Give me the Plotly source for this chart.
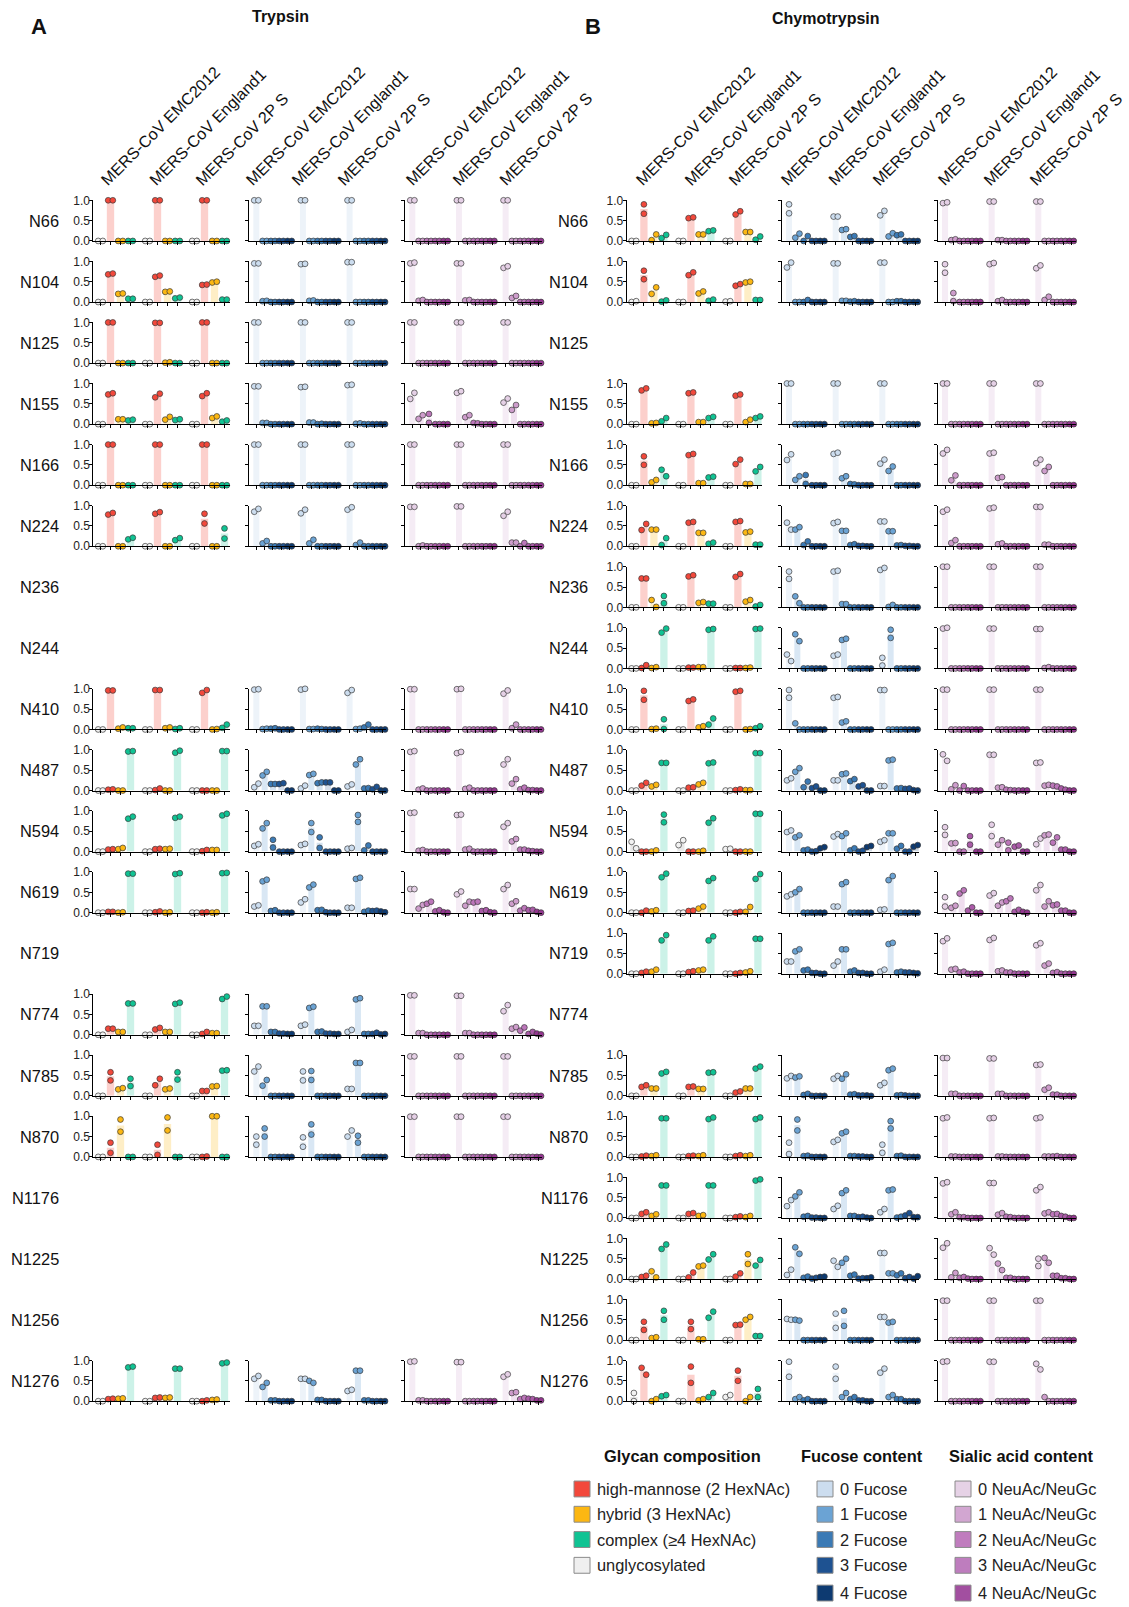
import plotly.graph_objects as go

W, H = 1129, 1607
FONT = "Arial, 'Liberation Sans', sans-serif"

SITES = ["N66", "N104", "N125", "N155", "N166", "N224", "N236", "N244", "N410", "N487",
         "N594", "N619", "N719", "N774", "N785", "N870", "N1176", "N1225", "N1256", "N1276"]
VIRUSES = ["MERS-CoV EMC2012", "MERS-CoV England1", "MERS-CoV 2P S"]
COMP_CATS = ["unglycosylated", "high-mannose (2 HexNAc)", "hybrid (3 HexNAc)", "complex (≥4 HexNAc)"]
FUC_CATS = ["0 Fucose", "1 Fucose", "2 Fucose", "3 Fucose", "4 Fucose"]
SIA_CATS = ["0 NeuAc/NeuGc", "1 NeuAc/NeuGc", "2 NeuAc/NeuGc", "3 NeuAc/NeuGc", "4 NeuAc/NeuGc"]

# values: site -> [virus][category] = (replicate 1, replicate 2)
C1 = [(0, 0), (1, 1), (0, 0), (0, 0)]
F1 = [(1, 1), (0, 0), (0, 0), (0, 0), (0, 0)]

TRY_COMP = {
    "N66": [C1, C1, C1],
    "N104": [[(0, 0), (.68, .70), (.20, .21), (.08, .08)], [(0, 0), (.62, .65), (.25, .26), (.09, .11)], [(0, 0), (.42, .43), (.48, .50), (.06, .06)]],
    "N125": [C1, [(0, 0), (.99, .99), (.01, .02), (0, 0)], C1],
    "N155": [[(0, 0), (.73, .76), (.12, .12), (.09, .11)], [(0, 0), (.66, .75), (.11, .18), (.10, .12)], [(0, 0), (.69, .76), (.15, .19), (.06, .09)]],
    "N166": [C1, C1, C1],
    "N224": [[(0, 0), (.78, .82), (0, 0), (.17, .21)], [(0, 0), (.80, .84), (0, 0), (.15, .20)], [(0, 0), (.80, .56), (0, 0), (.44, .19)]],
    "N410": [[(0, 0), (.96, .96), (.02, .05), (.03, .03)], [(0, 0), (.97, .97), (.03, .05), (.01, .03)], [(0, 0), (.90, .97), (0, .01), (.04, .12)]],
    "N487": [[(0, 0), (.02, .03), (0, 0), (.96, .97)], [(0, 0), (.01, .05), (0, 0), (.93, .98)], [(0, 0), (0, 0), (0, 0), (.97, .97)]],
    "N594": [[(0, 0), (.05, .06), (.06, .09), (.81, .86)], [(0, 0), (.06, .07), (.06, .07), (.83, .86)], [(0, 0), (.01, .04), (.04, .04), (.89, .93)]],
    "N619": [[(0, 0), (.02, .02), (0, .01), (.96, .96)], [(0, 0), (.01, .03), (0, .01), (.95, .97)], [(0, 0), (0, .01), (0, .01), (.97, .98)]],
    "N774": [[(0, 0), (.15, .15), (.07, .07), (.77, .77)], [(0, 0), (.13, .17), (.07, .07), (.76, .79)], [(0, 0), (.02, .07), (.04, .04), (.88, .94)]],
    "N785": [[(0, 0), (.58, .38), (.16, .19), (.42, .24)], [(0, 0), (.26, .42), (.16, .18), (.40, .58)], [(0, 0), (.12, .12), (.23, .24), (.62, .63)]],
    "N870": [[(0, 0), (.35, .10), (.92, .62), (0, 0)], [(0, 0), (.30, .05), (.97, .65), (0, 0)], [(0, 0), (0, .01), (1, 1), (0, 0)]],
    "N1276": [[(0, 0), (.05, .06), (.06, .07), (.83, .85)], [(0, 0), (.08, .09), (.08, .09), (.80, .80)], [(0, 0), (0, .02), (.03, .04), (.93, .95)]],
}

TRY_FUC = {
    "N66": [F1, F1, F1],
    "N104": [[(.95, .95), (.02, .03), (0, 0), (0, 0), (0, 0)], [(.93, .94), (.03, .04), (0, 0), (0, 0), (0, 0)], [(.98, .98), (0, 0), (0, 0), (0, 0), (0, 0)]],
    "N125": [F1, F1, F1],
    "N155": [[(.93, .93), (.03, .03), (0, 0), (0, 0), (0, 0)], [(.91, .92), (.04, .04), (0, .01), (0, 0), (0, 0)], [(.96, .97), (.01, .02), (0, 0), (0, 0), (0, 0)]],
    "N166": [F1, F1, F1],
    "N224": [[(.85, .92), (.07, .13), (0, 0), (0, 0), (0, 0)], [(.81, .90), (.07, .16), (0, 0), (0, 0), (0, 0)], [(.90, .96), (.03, .09), (0, 0), (0, 0), (0, 0)]],
    "N410": [[(.98, .99), (.01, .02), (.02, .03), (0, 0), (0, 0)], [(.98, 1.0), (.01, .01), (.02, .01), (0, 0), (0, 0)], [(.90, .97), (.01, .02), (.05, .12), (0, 0), (0, 0)]],
    "N487": [[(.08, .17), (.37, .46), (.16, .16), (.16, .18), (0, 0)], [(.05, .12), (.38, .41), (.18, .20), (.20, .20), (0, 0)], [(.10, .15), (.64, .77), (.05, .06), (.03, .09), (0, 0)]],
    "N594": [[(.14, .18), (.57, .70), (.29, .10), (0, 0), (0, 0)], [(.16, .19), (.70, .48), (.35, .09), (0, 0), (0, 0)], [(.07, .09), (.90, .73), (.03, .15), (0, 0), (0, 0)]],
    "N619": [[(.15, .18), (.77, .81), (.04, .06), (0, 0), (0, 0)], [(.25, .33), (.62, .69), (.06, .07), (.01, 0), (0, 0)], [(.12, .12), (.83, .86), (.02, .05), (.04, .05), (.03, .01)]],
    "N774": [[(.22, .22), (.70, .70), (.07, .07), (.03, .03), (.02, .02)], [(.22, .25), (.66, .69), (.07, .08), (.03, .03), (.02, .02)], [(.07, .12), (.87, .90), (.02, .02), (.02, .05), (.01, .02)]],
    "N785": [[(.60, .72), (.25, .39), (0, 0), (0, 0), (0, 0)], [(.60, .38), (.61, .39), (0, 0), (0, 0), (0, 0)], [(.17, .17), (.81, .81), (0, 0), (0, 0), (0, 0)]],
    "N870": [[(.50, .30), (.70, .50), (0, 0), (0, 0), (0, 0)], [(.48, .25), (.80, .55), (0, 0), (0, 0), (0, 0)], [(.50, .65), (.52, .35), (0, 0), (0, 0), (0, 0)]],
    "N1276": [[(.55, .62), (.35, .45), (.02, .02), (0, 0), (0, 0)], [(.55, .55), (.50, .45), (.03, .03), (0, 0), (0, 0)], [(.25, .28), (.75, .75), (.02, .02), (0, 0), (0, 0)]],
}

TRY_SIA = {
    "N66": [F1, F1, F1],
    "N104": [[(.95, .97), (.03, .05), (0, 0), (0, 0), (0, 0)], [(.95, .95), (.04, .05), (0, 0), (0, 0), (0, 0)], [(.84, .88), (.10, .15), (0, 0), (0, 0), (0, 0)]],
    "N125": [F1, F1, F1],
    "N155": [[(.62, .77), (.13, .22), (.25, .03), (0, 0), (0, 0)], [(.77, .81), (.17, .22), (.03, .02), (0, 0), (0, 0)], [(.53, .63), (.35, .47), (0, 0), (0, 0), (0, 0)]],
    "N166": [F1, F1, F1],
    "N224": [[(.97, .97), (0, .02), (0, 0), (0, 0), (0, 0)], [(.98, .98), (0, 0), (0, 0), (0, 0), (0, 0)], [(.75, .85), (.09, .09), (0, .08), (0, 0), (0, 0)]],
    "N410": [[(.99, .99), (0, 0), (0, 0), (0, 0), (0, 0)], [(.99, 1.0), (0, 0), (0, 0), (0, 0), (0, 0)], [(.88, .96), (.03, .12), (0, 0), (0, 0), (0, 0)]],
    "N487": [[(.95, .97), (.02, .05), (0, 0), (0, 0), (0, 0)], [(.92, .95), (.04, .07), (0, 0), (0, 0), (0, 0)], [(.64, .77), (.17, .28), (.03, .07), (.01, .01), (0, 0)]],
    "N594": [[(.95, .96), (.02, .04), (0, 0), (0, 0), (0, 0)], [(.90, .91), (.05, .07), (0, 0), (0, 0), (0, 0)], [(.61, .70), (.25, .31), (.05, .05), (.02, .01), (0, 0)]],
    "N619": [[(.58, .58), (.10, .19), (.22, .27), (.03, .06), (.01, 0)], [(.45, .52), (.17, .27), (.25, .27), (.04, .06), (.01, 0)], [(.58, .68), (.22, .28), (.05, .11), (.06, .07), (.02, 0)]],
    "N774": [[(.97, .97), (.04, .04), (0, 0), (0, 0), (0, 0)], [(.96, .96), (.04, .04), (0, 0), (0, 0), (0, 0)], [(.58, .73), (.15, .19), (.10, .18), (.02, .07), (.03, .01)]],
    "N785": [[(.97, .97), (0, 0), (0, 0), (0, 0), (0, 0)], [(.97, .97), (0, 0), (0, 0), (0, 0), (0, 0)], [(.97, .97), (0, 0), (0, 0), (0, 0), (0, 0)]],
    "N870": [[(.99, .99), (0, 0), (0, 0), (0, 0), (0, 0)], [(.99, .99), (0, 0), (0, 0), (0, 0), (0, 0)], [(.99, .99), (0, 0), (0, 0), (0, 0), (0, 0)]],
    "N1276": [[(.97, .98), (.02, .02), (0, 0), (0, 0), (0, 0)], [(.96, .96), (0, 0), (0, 0), (0, 0), (0, 0)], [(.60, .66), (.20, .22), (.05, .08), (.06, .05), (.02, .02)]],
}

CHY_COMP = {
    "N66": [[(0, 0), (.90, .67), (.02, .16), (.07, .15)], [(0, 0), (.56, .58), (.16, .16), (.24, .26)], [(0, 0), (.65, .73), (.22, .22), (.03, .11)]],
    "N104": [[(0, .02), (.77, .56), (.20, .36), (.01, .04)], [(0, 0), (.66, .73), (.21, .26), (.03, .06)], [(.01, .02), (.40, .44), (.48, .50), (.05, .05)]],
    "N155": [[(0, 0), (.83, .88), (.02, .03), (.07, .15)], [(0, 0), (.76, .78), (.05, .05), (.15, .18)], [(0, 0), (.70, .73), (.05, .11), (.15, .19)]],
    "N166": [[(0, 0), (.71, .50), (.07, .13), (.38, .22)], [(0, 0), (.74, .77), (.05, .05), (.19, .21)], [(0, 0), (.52, .63), (.03, .03), (.34, .45)]],
    "N224": [[(0, 0), (.40, .55), (.41, .41), (.03, .20)], [(0, 0), (.58, .60), (.33, .33), (.06, .09)], [(0, 0), (.60, .62), (.34, .36), (.04, .04)]],
    "N236": [[(0, 0), (.71, .71), (.18, .01), (.28, .10)], [(0, 0), (.76, .79), (.11, .13), (.09, .09)], [(0, 0), (.75, .82), (.14, .18), (.02, .06)]],
    "N244": [[(0, 0), (.01, .08), (.01, .03), (.88, .98)], [(0, 0), (.02, .02), (.03, .03), (.95, .97)], [(0, 0), (.01, .01), (.01, .02), (.97, .98)]],
    "N410": [[(0, 0), (.95, .73), (.01, .02), (.25, .01)], [(0, 0), (.70, .74), (.05, .08), (.12, .27)], [(0, 0), (.93, .95), (0, .01), (.03, .08)]],
    "N487": [[(0, 0), (.12, .19), (.10, .14), (.68, .68)], [(0, 0), (.07, .08), (.15, .19), (.67, .69)], [(0, 0), (.01, .03), (.01, .01), (.92, .92)]],
    "N594": [[(.24, .08), (0, 0), (0, .03), (.91, .72)], [(.16, .28), (0, 0), (0, .02), (.71, .82)], [(.06, .07), (0, 0), (0, 0), (.93, .93)]],
    "N619": [[(0, 0), (0, .05), (.03, .06), (.87, .96)], [(0, 0), (.04, .05), (.10, .15), (.78, .85)], [(0, 0), (0, .02), (.02, .14), (.83, .95)]],
    "N719": [[(0, 0), (.02, .05), (.05, .10), (.82, .95)], [(0, 0), (.04, .06), (.08, .10), (.82, .92)], [(0, 0), (0, .02), (.03, .06), (.86, .86)]],
    "N785": [[(0, 0), (.22, .26), (.18, .18), (.55, .59)], [(0, 0), (.22, .23), (.17, .17), (.57, .58)], [(0, 0), (.08, .11), (.18, .18), (.67, .72)]],
    "N870": [[(0, 0), (.01, .03), (.02, .04), (.95, .95)], [(0, 0), (.02, .03), (.02, .04), (.93, .97)], [(0, 0), (.02, .04), (.02, .04), (.93, .97)]],
    "N1176": [[(0, 0), (.10, .14), (.05, .09), (.80, .80)], [(0, 0), (.10, .12), (.05, .07), (.80, .80)], [(0, 0), (.02, .04), (.02, .05), (.92, .95)]],
    "N1225": [[(0, 0), (.05, .08), (.19, .04), (.74, .85)], [(0, 0), (.04, .16), (.31, .33), (.48, .61)], [(0, 0), (.06, .14), (.61, .37), (.33, .47)]],
    "N1256": [[(0, 0), (.45, .25), (.05, .07), (.72, .50)], [(0, 0), (.27, .45), (.02, .02), (.55, .70)], [(0, 0), (.37, .38), (.50, .57), (.10, .10)]],
    "N1276": [[(0, .20), (.82, .65), (0, .05), (.12, .15)], [(0, 0), (.85, .45), (.02, .05), (.10, .20)], [(.10, .15), (.75, .50), (0, .10), (.30, .10)]],
}

CHY_FUC = {
    "N66": [[(.90, .68), (.08, .18), (0, .12), (0, 0), (0, 0)], [(.60, .60), (.27, .29), (.10, .12), (0, 0), (0, 0)], [(.63, .74), (.11, .19), (.14, .16), (0, 0), (0, 0)]],
    "N104": [[(.85, .97), (0, 0), (0, .05), (0, 0), (0, 0)], [(.95, .95), (.03, .03), (.01, .02), (0, 0), (0, 0)], [(.97, .97), (0, 0), (.02, .02), (0, 0), (0, 0)]],
    "N155": [F1, F1, F1],
    "N166": [[(.62, .76), (.13, .22), (.25, .03), (0, 0), (0, 0)], [(.77, .80), (.17, .22), (.03, .02), (0, 0), (0, 0)], [(.53, .63), (.35, .46), (0, 0), (0, 0), (0, 0)]],
    "N224": [[(.58, .41), (.41, .47), (.03, .12), (0, 0), (0, 0)], [(.57, .60), (.38, .38), (.03, .05), (.01, .01), (0, 0)], [(.61, .61), (.37, .37), (.02, .03), (.01, .01), (0, 0)]],
    "N236": [[(.88, .70), (.27, .10), (0, 0), (0, 0), (0, 0)], [(.88, .90), (.08, .08), (0, 0), (0, 0), (0, 0)], [(.92, .97), (.01, .06), (0, 0), (0, 0), (0, 0)]],
    "N244": [[(.34, .18), (.84, .67), (0, 0), (0, 0), (0, 0)], [(.31, .34), (.70, .73), (0, 0), (0, 0), (0, 0)], [(.26, .07), (.95, .75), (0, 0), (0, 0), (0, 0)]],
    "N410": [[(.97, .78), (.15, 0), (0, 0), (0, 0), (0, 0)], [(.78, .80), (.17, .20), (0, 0), (0, 0), (0, 0)], [(.97, .97), (0, 0), (0, 0), (0, 0), (0, 0)]],
    "N487": [[(.25, .30), (.46, .55), (.08, .22), (.06, .10), (0, 0)], [(.25, .25), (.40, .42), (.23, .28), (.10, .13), (0, 0)], [(.11, .11), (.74, .76), (.05, .06), (.04, .05), (.01, 0)]],
    "N594": [[(.48, .52), (.35, .40), (.03, .05), (0, .01), (.08, .11)], [(.37, .43), (.38, .45), (.03, .08), (0, .02), (.11, .14)], [(.24, .28), (.45, .45), (.07, .14), (0, 0), (.12, .16)]],
    "N619": [[(.40, .45), (.50, .58), (0, 0), (0, 0), (0, 0)], [(.15, .15), (.70, .75), (0, 0), (0, 0), (0, 0)], [(.07, .08), (.80, .90), (0, 0), (0, 0), (0, 0)]],
    "N719": [[(.30, .30), (.55, .60), (.08, .10), (.02, .02), (0, 0)], [(.20, .30), (.60, .60), (.05, .08), (.02, .02), (0, 0)], [(.05, .10), (.73, .76), (.03, .05), (.03, .03), (.02, .01)]],
    "N785": [[(.43, .49), (.45, .48), (.02, .05), (0, 0), (0, 0)], [(.42, .49), (.42, .53), (.03, .04), (.01, .01), (.01, 0)], [(.26, .32), (.63, .67), (.01, .02), (.01, 0), (0, 0)]],
    "N870": [[(.35, .07), (.92, .65), (.02, .03), (0, 0), (0, 0)], [(.37, .42), (.58, .62), (.02, .02), (.01, .01), (0, 0)], [(.30, .10), (.88, .70), (.02, .03), (0, 0), (0, 0)]],
    "N1176": [[(.29, .44), (.53, .63), (.03, .05), (.01, .01), (0, 0)], [(.22, .30), (.61, .68), (.05, .05), (.02, .03), (.01, 0)], [(.14, .22), (.68, .70), (.01, .03), (.06, .12), (.02, .02)]],
    "N1225": [[(.10, .23), (.78, .62), (.03, .06), (.01, .03), (.05, .06)], [(.45, .30), (.40, .50), (.08, .11), (.01, .02), (.02, .04)], [(.64, .64), (.14, .14), (.09, .14), (.02, .05), (.01, .07)]],
    "N1256": [[(.52, .50), (.50, .48), (0, 0), (0, 0), (0, 0)], [(.30, .65), (.35, .72), (0, 0), (0, 0), (0, 0)], [(.57, .57), (.43, .45), (0, 0), (0, 0), (0, 0)]],
    "N1276": [[(.97, .60), (.05, .10), (.02, .05), (0, 0), (0, 0)], [(.85, .55), (.10, .20), (.05, .10), (.02, .02), (0, 0)], [(.70, .80), (.10, .15), (.05, .05), (0, 0), (0, 0)]],
}

CHY_SIA = {
    "N66": [[(.93, .95), (.02, .04), (0, 0), (0, 0), (0, 0)], [(.97, .97), (.02, .02), (0, 0), (0, 0), (0, 0)], [(.97, .97), (0, 0), (0, 0), (0, 0), (0, 0)]],
    "N104": [[(.93, .72), (.22, .02), (0, 0), (0, 0), (0, 0)], [(.93, .96), (.02, .05), (0, 0), (0, 0), (0, 0)], [(.83, .90), (.05, .13), (0, 0), (0, 0), (0, 0)]],
    "N155": [F1, F1, F1],
    "N166": [[(.78, .87), (.12, .24), (0, 0), (0, 0), (0, 0)], [(.78, .80), (.18, .20), (0, 0), (0, 0), (0, 0)], [(.54, .63), (.35, .45), (0, 0), (0, 0), (0, 0)]],
    "N224": [[(.85, .90), (.08, .15), (0, 0), (0, 0), (0, 0)], [(.93, .95), (.05, .07), (0, 0), (0, 0), (0, 0)], [(.97, .97), (.04, .04), (0, 0), (0, 0), (0, 0)]],
    "N236": [F1, F1, F1],
    "N244": [[(.98, 1.0), (0, 0), (0, 0), (0, 0), (0, 0)], [(.98, .98), (0, 0), (0, 0), (0, 0), (0, 0)], [(.97, .97), (.01, .03), (0, 0), (0, 0), (0, 0)]],
    "N410": [[(.98, .98), (0, 0), (0, 0), (0, 0), (0, 0)], [(.98, .98), (0, 0), (0, 0), (0, 0), (0, 0)], [(.98, .98), (0, 0), (0, 0), (0, 0), (0, 0)]],
    "N487": [[(.89, .73), (.03, .13), (0, .11), (0, 0), (0, 0)], [(.88, .88), (.07, .08), (.02, .01), (0, 0), (0, 0)], [(.68, .69), (.12, .14), (.12, .10), (.05, .02), (0, 0)]],
    "N594": [[(.60, .41), (.20, .21), (0, 0), (.38, .17), (0, 0)], [(.66, .38), (.17, .28), (.22, .03), (.12, .15), (0, 0)], [(.18, .32), (.40, .42), (.22, .35), (.05, .05), (0, 0)]],
    "N619": [[(.38, .15), (.12, .17), (.47, .55), (.05, .13), (0, 0)], [(.42, .48), (.17, .25), (.28, .35), (.02, .07), (.02, 0)], [(.55, .68), (.15, .28), (.18, .20), (.05, .05), (0, 0)]],
    "N719": [[(.80, .87), (.10, .12), (.03, .05), (0, 0), (0, 0)], [(.83, .88), (.06, .08), (.03, .03), (0, 0), (0, 0)], [(.70, .75), (.20, .25), (.02, .04), (0, 0), (0, 0)]],
    "N785": [[(.93, .93), (.05, .05), (0, 0), (0, 0), (0, 0)], [(.92, .92), (.05, .05), (0, 0), (0, 0), (0, 0)], [(.76, .77), (.15, .20), (.03, .03), (0, 0), (0, 0)]],
    "N870": [[(.95, .97), (.01, .01), (0, 0), (0, 0), (0, 0)], [(.95, .96), (.01, .01), (0, 0), (0, 0), (0, 0)], [(.95, .97), (.01, .01), (.01, .02), (0, 0), (0, 0)]],
    "N1176": [[(.85, .88), (.09, .14), (.02, .02), (0, 0), (0, 0)], [(.86, .86), (.08, .12), (.03, .02), (0, 0), (0, 0)], [(.68, .76), (.11, .14), (.09, .10), (.05, .03), (0, 0)]],
    "N1225": [[(.77, .88), (.04, .15), (.03, .05), (.01, 0), (0, 0)], [(.76, .60), (.38, .22), (.03, .03), (0, 0), (0, 0)], [(.50, .32), (.52, .40), (.08, .08), (.02, .02), (0, 0)]],
    "N1256": [[(.97, .97), (0, 0), (0, 0), (0, 0), (0, 0)], [(.97, .97), (0, 0), (0, 0), (0, 0), (0, 0)], [(.97, .97), (0, 0), (0, 0), (0, 0), (0, 0)]],
    "N1276": [[(.97, .98), (0, 0), (0, 0), (0, 0), (0, 0)], [(.97, .97), (0, 0), (0, 0), (0, 0), (0, 0)], [(.92, .78), (.10, 0), (0, 0), (0, 0), (0, 0)]],
}

# ---------------- styling ----------------
COMP_COLORS = ["#F2F2F2", "#F2483B", "#FCB712", "#0FC393"]
COMP_BAR = ["rgba(190,190,190,0.35)", "rgba(242,72,59,0.26)", "rgba(252,183,18,0.24)", "rgba(15,195,147,0.21)"]
FUC_COLORS = ["#CCDDEF", "#6BA3D4", "#3B7AB5", "#1E5291", "#0D3A71"]
FUC_BAR = ["rgba(204,221,239,0.35)", "rgba(107,163,212,0.26)", "rgba(59,122,181,0.22)", "rgba(30,82,145,0.2)", "rgba(13,58,113,0.2)"]
SIA_COLORS = ["#E5D0E6", "#CE9DCC", "#BC76BA", "#AA5AA8", "#93358F"]
SIA_BAR = ["rgba(229,208,230,0.4)", "rgba(206,157,204,0.3)", "rgba(188,118,186,0.25)", "rgba(170,90,168,0.22)", "rgba(147,53,143,0.2)"]

ROW_TOP0, ROW_PITCH, PLOT_H = 195.0, 61.6, 41.0
PANELS = {
    "T": [("comp", TRY_COMP, 93.3, 230.0), ("fuc", TRY_FUC, 249.0, 385.6), ("sia", TRY_SIA, 405.0, 542.0)],
    "C": [("comp", CHY_COMP, 626.7, 762.0), ("fuc", CHY_FUC, 781.7, 919.0), ("sia", CHY_SIA, 937.7, 1076.0)],
}
# leftmost point of each rotated column label (px)
LABEL_X = {"T": [[95, 143.5, 190], [240, 286, 332], [400, 447, 493.5]],
           "C": [[630, 679, 723], [775, 822.5, 867], [932, 978, 1024]]}
ROWLAB_X = {"T": 60.5, "C": 590.0}

fig = go.Figure()
layout = {}
n = 0
for enz in ["T", "C"]:
    for i, site in enumerate(SITES):
        top = ROW_TOP0 + i * ROW_PITCH
        for kind, table, px0, px1 in PANELS[enz]:
            vals = table.get(site)
            if vals is None:
                continue
            n += 1
            if kind == "comp":
                ppx, gp, half, bw, lpad = 10.0, 4.7, 0.23, 0.73, 0.72
                cols, bcols = COMP_COLORS, COMP_BAR
            else:
                ppx, gp, half, bw, lpad = 8.33, 5.6, 0.25, 0.72, 0.88
                cols, bcols = (FUC_COLORS, FUC_BAR) if kind == "fuc" else (SIA_COLORS, SIA_BAR)
            xs, ys, cs, bx, by, bc, tv = [], [], [], [], [], [], []
            for g, vv in enumerate(vals):
                for c, (a, b) in enumerate(vv):
                    cx = g * gp + c
                    tv.append(cx)
                    bx.append(cx); by.append((a + b) / 2.0); bc.append(bcols[c])
                    off = (0.0, 0.0) if abs(a - b) > 0.17 else (-half, half)
                    xs += [cx + off[0], cx + off[1]]
                    ys += [a, b]
                    cs += [cols[c], cols[c]]
            xn = "x" if n == 1 else f"x{n}"
            yn = "y" if n == 1 else f"y{n}"
            fig.add_trace(go.Bar(x=bx, y=by, width=bw, marker=dict(color=bc, line=dict(width=0)),
                                 xaxis=xn, yaxis=yn, showlegend=False, hoverinfo="skip"))
            fig.add_trace(go.Scatter(x=xs, y=ys, mode="markers", xaxis=xn, yaxis=yn, cliponaxis=False,
                                     marker=dict(size=5.8, color=cs, line=dict(color="#3a3a3a", width=0.7)),
                                     showlegend=False, hoverinfo="skip"))
            rng = [-lpad, -lpad + (px1 - px0) / ppx]
            layout["xaxis" if n == 1 else f"xaxis{n}"] = dict(
                domain=[px0 / W, px1 / W], anchor=yn, range=rng, showline=True, linecolor="black",
                linewidth=1, ticks="outside", ticklen=3, tickwidth=1, tickcolor="black",
                tickvals=tv, showticklabels=False, showgrid=False, zeroline=False, fixedrange=True)
            layout["yaxis" if n == 1 else f"yaxis{n}"] = dict(
                domain=[1 - (top + PLOT_H) / H, 1 - top / H], anchor=xn, range=[0, 1], showline=True,
                linecolor="black", linewidth=1, ticks="outside", ticklen=3, tickwidth=1, tickcolor="black",
                tickvals=[0, 0.5, 1], ticktext=["0.0", "0.5", "1.0"], showticklabels=(kind == "comp"),
                ticklabelstandoff=-3,
                tickfont=dict(size=12, color="#222", family=FONT), showgrid=False, zeroline=False,
                fixedrange=True)

annotations = []
for enz in ["T", "C"]:
    for i, site in enumerate(SITES):
        top = ROW_TOP0 + i * ROW_PITCH
        annotations.append(dict(text=site, x=ROWLAB_X[enz] / W, y=1 - (top + 20.5) / H, xref="paper",
                                yref="paper", xanchor="right", yanchor="middle", showarrow=False,
                                font=dict(size=16.4, color="#111", family=FONT)))
    for p in range(3):
        for v, name in enumerate(VIRUSES):
            lx = LABEL_X[enz][p][v]
            annotations.append(dict(text=name, textangle=-45, x=(lx - 1) / W, y=1 - 186 / H,
                                    xref="paper", yref="paper", xanchor="left", yanchor="bottom",
                                    showarrow=False, font=dict(size=16.2, color="#111", family=FONT)))

for txt, x, y, sz in [("<b>A</b>", 39, 20, 22), ("<b>Trypsin</b>", 280, 10, 16),
                      ("<b>B</b>", 593, 20, 22), ("<b>Chymotrypsin</b>", 826, 12, 16)]:
    annotations.append(dict(text=txt, x=x / W, y=1 - y / H, xref="paper", yref="paper",
                            xanchor="center", yanchor="middle", showarrow=False,
                            font=dict(size=sz, color="#111", family=FONT)))

shapes = []
LEG_ROWS = [1495, 1520.5, 1546, 1572, 1600]
LEG = [("Glycan composition", 682, 574, [COMP_CATS[1], COMP_CATS[2], COMP_CATS[3], COMP_CATS[0]],
        [COMP_COLORS[1], COMP_COLORS[2], COMP_COLORS[3], "#EFEFEF"]),
       ("Fucose content", 862, 817, FUC_CATS, FUC_COLORS),
       ("Sialic acid content", 1021, 955, SIA_CATS, ["#E6D2E6", "#D2A6D1", "#C07CBE", "#BE7DBE", "#A24FA0"])]
for title, tx, sx, labels, colors in LEG:
    annotations.append(dict(text=f"<b>{title}</b>", x=tx / W, y=1 - 1462 / H, xref="paper", yref="paper",
                            xanchor="center", yanchor="middle", showarrow=False,
                            font=dict(size=16.4, color="#111", family=FONT)))
    for lab, col, yy in zip(labels, colors, LEG_ROWS):
        shapes.append(dict(type="rect", xref="paper", yref="paper", x0=sx / W, x1=(sx + 16) / W,
                           y0=1 - (yy + 8) / H, y1=1 - (yy - 8) / H, fillcolor=col,
                           line=dict(color="#8a8a8a", width=1)))
        annotations.append(dict(text=lab, x=(sx + 21) / W, y=1 - yy / H, xref="paper", yref="paper",
                                xanchor="left", yanchor="middle", showarrow=False,
                                font=dict(size=16.4, color="#222", family=FONT)))

fig.update_layout(width=W, height=H, margin=dict(l=0, r=0, t=0, b=0), paper_bgcolor="white",
                  plot_bgcolor="rgba(0,0,0,0)", annotations=annotations, shapes=shapes,
                  barmode="overlay", font=dict(family=FONT), **layout)
fig.write_html("out.html", config={"displayModeBar": False, "staticPlot": True},
               post_script="document.body.style.margin='0';")
